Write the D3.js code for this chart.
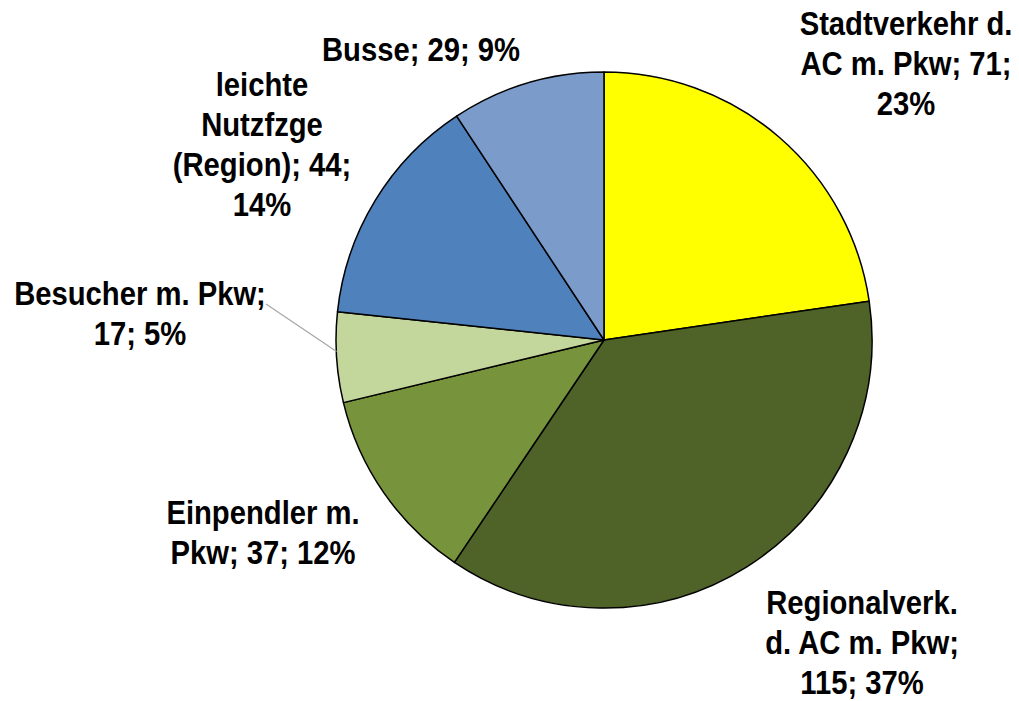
<!DOCTYPE html>
<html><head><meta charset="utf-8">
<script src="https://cdn.jsdelivr.net/npm/d3@7/dist/d3.min.js"></script>
<style>body{margin:0;background:#fff}</style>
</head><body>
<svg id="chart" width="1019" height="701"></svg>
<script>
const categories = ["Stadtverkehr d. AC m. Pkw", "Regionalverk. d. AC m. Pkw", "Einpendler m. Pkw", "Besucher m. Pkw", "leichte Nutzfzge (Region)", "Busse"];
const values = [71, 115, 37, 17, 44, 29];
const percents = ["23%", "37%", "12%", "5%", "14%", "9%"];
const labelLines = [
  ["Stadtverkehr d.", "AC m. Pkw; 71;", "23%"],
  ["Regionalverk.", "d. AC m. Pkw;", "115; 37%"],
  ["Einpendler m.", "Pkw; 37; 12%"],
  ["Besucher m. Pkw;", "17; 5%"],
  ["leichte", "Nutzfzge", "(Region); 44;", "14%"],
  ["Busse; 29; 9%"]
];
const colors = ["#ffff00", "#4f6228", "#77933c", "#c3d69b", "#4f81bd", "#7b9bcb"];

// layout
const cx = 604, cy = 340, R = 268;
const labelPos = [
  {x: 906, y: 35}, {x: 862, y: 614}, {x: 263, y: 524}, {x: 140, y: 305}, {x: 262, y: 96}, {x: 421, y: 61}
];
const lineH = 40;
const condense = 0.86;

const svg = d3.select("#chart");
const g = svg.append("g").attr("transform", `translate(${cx},${cy})`);
const pie = d3.pie().sort(null).value(d => d)(values);
const arc = d3.arc().innerRadius(0).outerRadius(R);

g.selectAll("path.slice").data(pie).enter().append("path")
  .attr("class", "slice")
  .attr("d", arc)
  .attr("fill", (d, i) => colors[i])
  .attr("stroke", "#000")
  .attr("stroke-width", 1.5)
  .attr("stroke-linejoin", "round");

// leader line for Besucher
const bes = pie[3];
const mid = (bes.startAngle + bes.endAngle) / 2;
const edge = [cx + R * Math.sin(mid) , cy - R * Math.cos(mid) - 6];
svg.append("line")
  .attr("x1", 266).attr("y1", 304)
  .attr("x2", edge[0]).attr("y2", edge[1])
  .attr("stroke", "#a6a6a6").attr("stroke-width", 1.2);

labelLines.forEach((lines, i) => {
  const t = svg.append("text")
    .attr("transform", `translate(${labelPos[i].x},0) scale(${condense},1)`)
    .attr("text-anchor", "middle")
    .attr("font-family", "'Liberation Sans', Arial, sans-serif")
    .attr("font-weight", "bold")
    .attr("font-size", 34)
    .attr("fill", "#000");
  lines.forEach((l, k) => {
    t.append("tspan").attr("x", 0).attr("y", labelPos[i].y + k * lineH).text(l);
  });
});
</script>
</body></html>
